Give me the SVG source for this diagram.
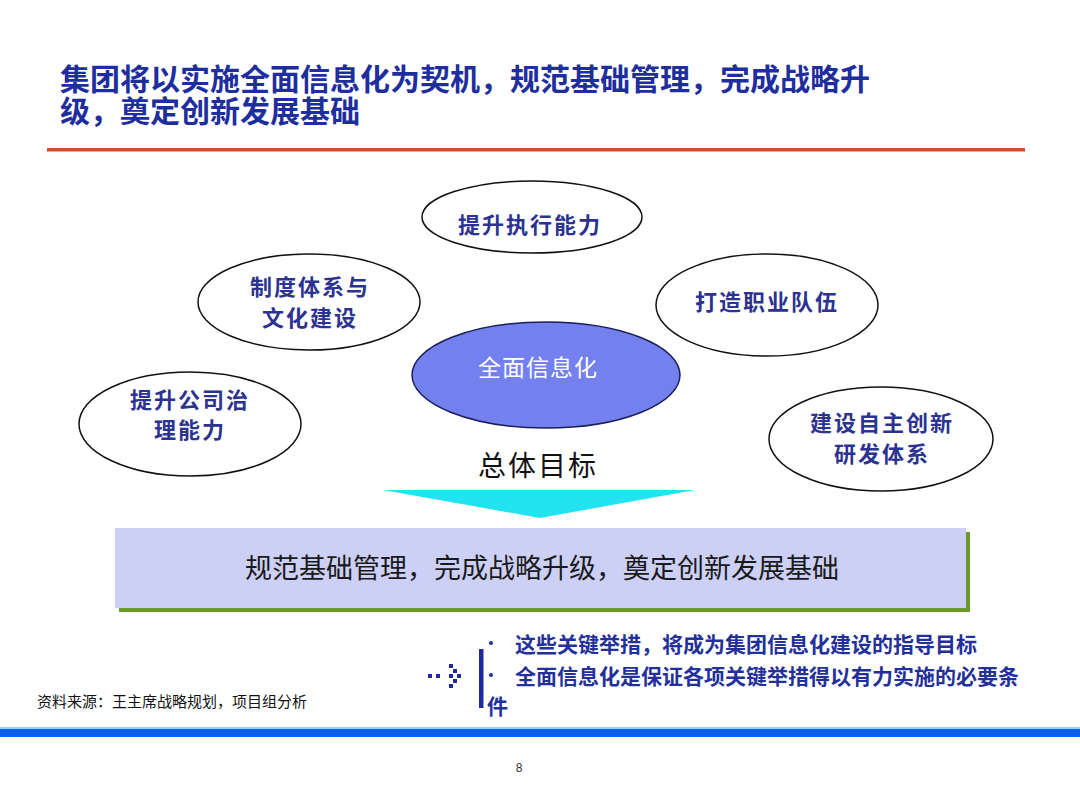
<svg xmlns="http://www.w3.org/2000/svg" width="1080" height="810" viewBox="0 0 1080 810">
<style>
.t{font-family:"Liberation Sans","Noto Sans CJK SC",sans-serif;}
.title{font-size:30px;fill:#1f2e9e;font-weight:bold;}
.el{fill:#fff;stroke:#111;stroke-width:1.5;}
.lab{font-size:22px;fill:#2b3290;text-anchor:middle;font-weight:bold;letter-spacing:2px;}
.bul{font-size:21px;fill:#23309a;font-weight:bold;}
.nav{fill:#1f2aa0;}
</style>
<rect width="1080" height="810" fill="#fff"/>
<g id="title">
<text class="t title" x="60" y="90">集团将以实施全面信息化为契机，规范基础管理，完成战略升</text>
<text class="t title" x="60" y="122">级，奠定创新发展基础</text>
<rect x="47" y="148" width="978" height="3.5" fill="#c9522b"/>
</g>
<g id="n-exec">
<ellipse class="el" cx="532" cy="217" rx="110" ry="36"/>
<text class="t lab" x="530" y="233">提升执行能力</text>
</g>
<g id="n-system">
<ellipse class="el" cx="309" cy="302" rx="111" ry="48"/>
<text class="t lab" x="310" y="295">制度体系与</text>
<text class="t lab" x="310" y="326">文化建设</text>
</g>
<g id="n-team">
<ellipse class="el" cx="767" cy="305" rx="111" ry="51"/>
<text class="t lab" x="767" y="310">打造职业队伍</text>
</g>
<g id="n-gov">
<ellipse class="el" cx="190" cy="424" rx="111" ry="52"/>
<text class="t lab" x="190" y="408">提升公司治</text>
<text class="t lab" x="190" y="438">理能力</text>
</g>
<g id="n-rd">
<ellipse class="el" cx="881" cy="439" rx="112" ry="52"/>
<text class="t lab" x="882" y="431">建设自主创新</text>
<text class="t lab" x="882" y="462">研发体系</text>
</g>
<g id="n-center">
<ellipse cx="546" cy="375" rx="134" ry="53" fill="#7380ee" stroke="#1a1f5a" stroke-width="1.5"/>
<text class="t" x="538" y="376" font-size="23" fill="#fff" text-anchor="middle" letter-spacing="1">全面信息化</text>
</g>
<g id="goal">
<text class="t" x="538" y="476" font-size="28" fill="#111" text-anchor="middle" letter-spacing="2">总体目标</text>
<polygon points="383,490 695,490 540,518" fill="#22e4f0"/>
</g>
<g id="target">
<rect x="119" y="532" width="851" height="80" fill="#6a9a28"/>
<rect x="115" y="528" width="851" height="80" fill="#ccd0f6"/>
<text class="t" x="542" y="578" font-size="27" fill="#1a1a1a" text-anchor="middle">规范基础管理，完成战略升级，奠定创新发展基础</text>
</g>
<g id="notes">
<g class="nav">
<rect x="428" y="674" width="4" height="4"/>
<rect x="436" y="674" width="4" height="4"/>
<rect x="449" y="664" width="4" height="4"/>
<rect x="453" y="669" width="4" height="4"/>
<rect x="449" y="674" width="4" height="4"/>
<rect x="457" y="674" width="4" height="4"/>
<rect x="453" y="679" width="4" height="4"/>
<rect x="449" y="684" width="4" height="4"/>
<rect x="479" y="649" width="4.5" height="59"/>
<circle cx="491" cy="643" r="2"/>
<circle cx="491" cy="675" r="2"/>
</g>
<text class="t bul" x="515" y="652">这些关键举措，将成为集团信息化建设的指导目标</text>
<text class="t bul" x="515" y="684">全面信息化是保证各项关键举措得以有力实施的必要条</text>
<text class="t bul" x="487" y="714" font-weight="normal">件</text>
</g>
<g id="footer">
<text class="t" x="37" y="707" font-size="15" fill="#111">资料来源：王主席战略规划，项目组分析</text>
<rect x="0" y="727" width="1080" height="2" fill="#8fd4ff"/>
<rect x="0" y="729" width="1080" height="8" fill="#0a62ea"/>
<text class="t" x="519" y="772" font-size="12" fill="#333" text-anchor="middle">8</text>
</g>
</svg>
